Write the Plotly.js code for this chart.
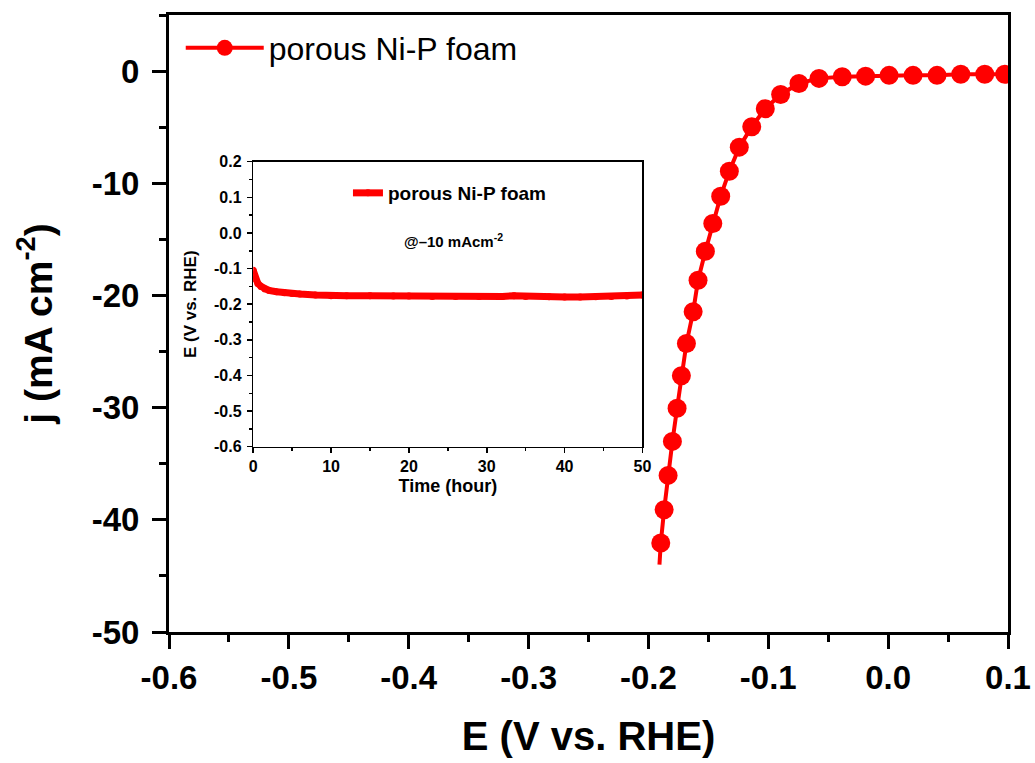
<!DOCTYPE html>
<html>
<head>
<meta charset="utf-8">
<script src="https://cdn.plot.ly/plotly-3.0.1.min.js"></script>
<style>html,body{margin:0;padding:0;background:#fff;}</style>
</head>
<body>
<div id="chart" style="width:1035px;height:763px;"></div>
<script>
// ---- Main polarization curve (LSV) ----
const seriesName = 'porous Ni-P foam';
const potential = [-0.1908, -0.1897, -0.1869, -0.1836, -0.1800, -0.1761, -0.1725, -0.1683, -0.1627, -0.1586,
                   -0.1525, -0.1463, -0.1397, -0.1325, -0.1242, -0.1138, -0.1025, -0.0897, -0.0744, -0.0577,
                   -0.0383, -0.0188, 0.0008, 0.0208, 0.0408, 0.0606, 0.0806, 0.0973];
const current = [-44.0, -42.07, -39.10, -36.04, -33.01, -30.06, -27.15, -24.29, -21.46, -18.64,
                 -16.06, -13.59, -11.15, -8.92, -6.78, -4.96, -3.35, -2.08, -1.10, -0.65,
                 -0.50, -0.45, -0.38, -0.38, -0.38, -0.29, -0.29, -0.29];

// ---- Inset: stability test ----
const timeHour = [0, 0.15, 0.3, 0.6, 1, 1.5, 2, 3, 4, 5, 6, 8, 10, 12, 15, 18, 20, 23, 26, 29,
                  32, 33.5, 35, 38, 40, 42, 44, 46, 48, 50];
const potentialInset = [-0.105, -0.120, -0.130, -0.142, -0.150, -0.157, -0.161, -0.165, -0.168, -0.170,
                        -0.171, -0.174, -0.176, -0.176, -0.176, -0.177, -0.177, -0.178, -0.178, -0.178,
                        -0.178, -0.176, -0.178, -0.179, -0.180, -0.180, -0.179, -0.178, -0.177, -0.174];

// ---- Tick labels ----
const xTickVals = [-0.6, -0.5, -0.4, -0.3, -0.2, -0.1, 0.0, 0.1];
const xTickText = ['-0.6', '-0.5', '-0.4', '-0.3', '-0.2', '-0.1', '0.0', '0.1'];
const yTickVals = [0, -10, -20, -30, -40, -50];
const yTickText = ['0', '-10', '-20', '-30', '-40', '-50'];
const x2TickVals = [0, 10, 20, 30, 40, 50];
const x2TickText = ['0', '10', '20', '30', '40', '50'];
const y2TickVals = [0.2, 0.1, 0.0, -0.1, -0.2, -0.3, -0.4, -0.5, -0.6];
const y2TickText = ['0.2', '0.1', '0.0', '-0.1', '-0.2', '-0.3', '-0.4', '-0.5', '-0.6'];

const FONT = 'Liberation Sans, Arial, Helvetica, sans-serif';
const RED = '#ff0000';

// the first point is the tail of the sweep, drawn as line only
const markerSizes = potential.map((v, i) => (i === 0 ? 0 : 19));

const traces = [
  {
    type: 'scatter', mode: 'lines+markers', name: seriesName,
    x: potential, y: current, xaxis: 'x', yaxis: 'y',
    line: {color: RED, width: 4},
    marker: {color: RED, size: markerSizes, symbol: 'circle', opacity: 1, line: {width: 0}},
    legend: 'legend'
  },
  {
    type: 'scatter', mode: 'lines+markers', name: seriesName,
    x: timeHour, y: potentialInset, xaxis: 'x2', yaxis: 'y2',
    line: {color: RED, width: 7},
    marker: {color: RED, size: 7, symbol: 'circle', opacity: 1},
    legend: 'legend2'
  }
];

const mainAxisCommon = {
  ticks: 'outside', tickwidth: 3, tickcolor: 'black',
  showline: true, linewidth: 3, linecolor: 'black', mirror: true,
  showgrid: false, zeroline: false,
  tickmode: 'array',
  tickfont: {family: FONT, size: 33, color: 'black', weight: 'bold'}
};
const insetAxisCommon = {
  ticks: 'outside', tickwidth: 1.5, tickcolor: 'black', ticklen: 5,
  showline: true, linewidth: 1.5, linecolor: 'black', mirror: true,
  showgrid: false, zeroline: false,
  tickmode: 'array',
  tickfont: {family: FONT, size: 16, color: 'black', weight: 'bold'}
};

const layout = {
  width: 1035, height: 763,
  margin: {l: 169, r: 27, t: 15, b: 131, pad: 0},
  paper_bgcolor: 'white', plot_bgcolor: 'white',
  font: {family: FONT, color: 'black'},
  showlegend: true,
  xaxis: Object.assign({}, mainAxisCommon, {
    domain: [0, 1], anchor: 'y', range: [-0.6, 0.1],
    tickvals: xTickVals, ticktext: xTickText, ticklen: 14,
    minor: {tickmode: 'linear', tick0: -0.6, dtick: 0.05, ticks: 'outside', ticklen: 7, tickwidth: 3, tickcolor: 'black', showgrid: false},
    title: {text: 'E (V vs. RHE)', font: {family: FONT, size: 40, color: 'black', weight: 'bold'}, standoff: 28}
  }),
  yaxis: Object.assign({}, mainAxisCommon, {
    domain: [0, 1], anchor: 'x', range: [-50, 5],
    tickvals: yTickVals, ticktext: yTickText, ticklen: 14, ticklabelstandoff: 6,
    minor: {tickmode: 'linear', tick0: 0, dtick: 5, ticks: 'outside', ticklen: 7, tickwidth: 3, tickcolor: 'black', showgrid: false},
    title: {text: 'j (mA cm<sup>-2</sup>)', font: {family: FONT, size: 39, color: 'black', weight: 'bold'}, standoff: 28}
  }),
  xaxis2: Object.assign({}, insetAxisCommon, {
    domain: [0.1004, 0.5643], anchor: 'y2', range: [0, 50],
    tickvals: x2TickVals, ticktext: x2TickText,
    minor: {tickmode: 'linear', tick0: 0, dtick: 5, ticks: 'outside', ticklen: 3, tickwidth: 1.5, tickcolor: 'black', showgrid: false},
    title: {text: 'Time (hour)', font: {family: FONT, size: 18, color: 'black', weight: 'bold'}, standoff: 5}
  }),
  yaxis2: Object.assign({}, insetAxisCommon, {
    domain: [0.3003, 0.7622], anchor: 'x2', range: [-0.6, 0.2],
    tickvals: y2TickVals, ticktext: y2TickText, ticklabelstandoff: 2,
    minor: {tickmode: 'linear', tick0: 0, dtick: 0.05, ticks: 'outside', ticklen: 3, tickwidth: 1.5, tickcolor: 'black', showgrid: false},
    title: {text: 'E (V vs. RHE)', font: {family: FONT, size: 17, color: 'black', weight: 'bold'}, standoff: 13}
  }),
  legend: {
    x: 0.014, xanchor: 'left', y: 0.9465, yanchor: 'middle',
    bgcolor: 'rgba(0,0,0,0)', borderwidth: 0,
    font: {family: FONT, size: 32, color: 'black'},
    itemwidth: 78
  },
  legend2: {
    x: 0.2133, xanchor: 'left', y: 0.7115, yanchor: 'middle',
    bgcolor: 'rgba(0,0,0,0)', borderwidth: 0,
    font: {family: FONT, size: 19, color: 'black', weight: 'bold'}
  },
  annotations: [
    {
      xref: 'x2 domain', yref: 'y2 domain', x: 0.515, y: 0.725,
      xanchor: 'center', yanchor: 'middle', showarrow: false,
      text: '@–10 mAcm<sup>-2</sup>',
      font: {family: FONT, size: 15, color: 'black', weight: 'bold'}
    }
  ]
};

Plotly.newPlot('chart', traces, layout, {displayModeBar: false, staticPlot: true});
</script>
</body>
</html>
